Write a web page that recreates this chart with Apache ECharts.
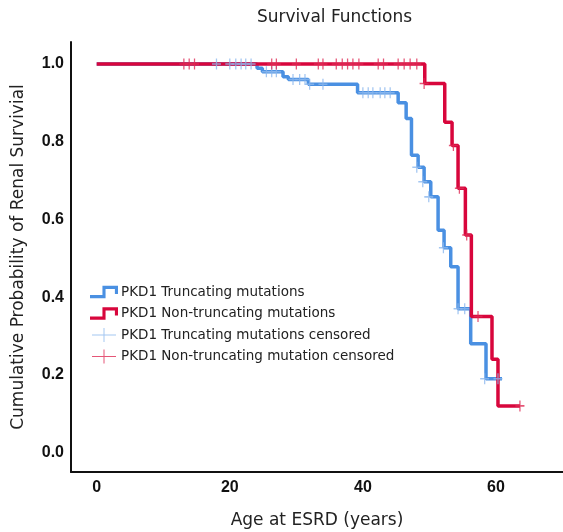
<!DOCTYPE html>
<html>
<head>
<meta charset="utf-8">
<script src="https://cdn.jsdelivr.net/npm/echarts@6/dist/echarts.min.js"></script>
<style>
html,body{margin:0;padding:0;background:#fff;}
#chart{width:563px;height:532px;}
</style>
</head>
<body>
<div id="chart"></div>
<script>
// ---- data ----
const truncTimes = [0, 24.1, 24.9, 28.0, 28.8, 31.8, 39.2, 45.3, 46.5, 47.3, 48.3, 49.2, 50.2, 51.3, 52.2, 53.2, 54.3, 56.2, 58.5, 60.9];
const truncSurv  = [1.0, 0.989, 0.980, 0.967, 0.960, 0.948, 0.926, 0.900, 0.860, 0.765, 0.734, 0.697, 0.658, 0.572, 0.527, 0.478, 0.370, 0.280, 0.190, 0.190];

const nonTruncTimes = [0, 49.3, 52.3, 53.4, 54.3, 55.4, 56.3, 59.4, 60.3, 63.6];
const nonTruncSurv  = [1.0, 0.95, 0.85, 0.79, 0.68, 0.56, 0.35, 0.24, 0.12, 0.12];

const truncCensTimes = [18.0, 20.0, 20.9, 21.7, 22.4, 23.2, 25.5, 26.3, 27.0, 29.5, 30.5, 31.3, 32.0, 34.0, 40.0, 40.8, 41.5, 42.6, 43.3, 44.1, 48.1, 49.0, 49.9, 52.1, 54.3, 55.3, 58.3, 60.3];
const truncCensSurv  = [1, 1, 1, 1, 1, 1, 0.98, 0.98, 0.98, 0.96, 0.96, 0.96, 0.948, 0.948, 0.926, 0.926, 0.926, 0.926, 0.926, 0.926, 0.734, 0.697, 0.658, 0.527, 0.37, 0.37, 0.19, 0.19];

const nonTruncCensTimes = [13.1, 13.9, 14.7, 26.3, 27.0, 30.0, 33.3, 34.0, 36.0, 36.9, 37.7, 38.5, 39.4, 42.3, 43.1, 45.3, 46.2, 47.1, 48.1, 49.2, 53.6, 54.5, 55.6, 57.3, 63.6];
const nonTruncCensSurv  = [1, 1, 1, 1, 1, 1, 1, 1, 1, 1, 1, 1, 1, 1, 1, 1, 1, 1, 1, 0.95, 0.79, 0.68, 0.56, 0.35, 0.12];

const xTicks = [0, 20, 40, 60];
const yTicks = [0, 0.2, 0.4, 0.6, 0.8, 1.0];

const seriesNames = [
  'PKD1 Truncating mutations',
  'PKD1 Non-truncating mutations',
  'PKD1 Truncating mutations censored',
  'PKD1 Non-truncating mutation censored'
];

// ---- build ----
const zip = (a, b) => a.map((v, i) => [v, b[i]]);
const BLUE = '#4a90e2';
const RED = '#d8063c';
const BLUE_C = '#8cb8ee';
const RED_C = '#de2c55';
const stepIcon = 'path://M0,9L12,9L12,0L27,0L27,8L24,8L24,3L15,3L15,12L0,12Z';
const plusIcon = 'path://M0,6.5H24V7.5H0ZM11.5,0H12.5V14H11.5Z';
const plusMark = 'path://M0,4.3H10V5.7H0ZM4.3,0H5.7V10H4.3Z';

const chart = echarts.init(document.getElementById('chart'), null, {renderer: 'canvas'});
chart.setOption({
  animation: false,
  backgroundColor: '#fff',
  title: {
    text: 'Survival Functions',
    left: 257, top: 9, padding: 0,
    textStyle: {fontFamily: 'DejaVu Sans', fontSize: 17, fontWeight: 'normal', color: '#222'}
  },
  grid: {left: 71, right: 0, top: 42, bottom: 60, containLabel: false, outerBoundsMode: 'none'},
  legend: {
    orient: 'vertical', left: 90, top: 285, padding: 0,
    itemWidth: 28, itemHeight: 14, itemGap: 7.5,
    textStyle: {fontFamily: 'DejaVu Sans', fontSize: 13.5, color: '#222', padding: [0, 0, 0, -2]},
    data: [
      {name: seriesNames[0], icon: stepIcon, itemStyle: {color: BLUE}},
      {name: seriesNames[1], icon: stepIcon, itemStyle: {color: RED}},
      {name: seriesNames[2], icon: plusIcon, itemStyle: {color: BLUE_C}},
      {name: seriesNames[3], icon: plusIcon, itemStyle: {color: RED_C}}
    ]
  },
  xAxis: {
    type: 'value', min: -3.86, max: 70.07,
    name: 'Age at ESRD (years)', nameLocation: 'middle', nameGap: 40,
    nameTextStyle: {fontFamily: 'DejaVu Sans', fontSize: 17, color: '#222'},
    axisLine: {show: true, onZero: false, lineStyle: {color: '#111', width: 2}},
    axisTick: {show: false},
    splitLine: {show: false},
    axisLabel: {customValues: xTicks, margin: 8, fontFamily: 'Liberation Sans', fontWeight: 'bold', fontSize: 16, color: '#111'}
  },
  yAxis: {
    type: 'value', min: -0.0502, max: 1.0566,
    name: 'Cumulative Probability of Renal Survivial', nameLocation: 'middle', nameGap: 44,
    nameTextStyle: {fontFamily: 'DejaVu Sans', fontSize: 17, color: '#222'},
    axisLine: {show: true, onZero: false, lineStyle: {color: '#111', width: 2}},
    axisTick: {show: false},
    splitLine: {show: false},
    axisLabel: {customValues: yTicks, margin: 7, fontFamily: 'Liberation Sans', fontWeight: 'bold', fontSize: 16, color: '#111',
      formatter: v => v.toFixed(1)}
  },
  series: [
    {name: seriesNames[0], type: 'line', step: 'end', data: zip(truncTimes, truncSurv),
     showSymbol: false, lineStyle: {color: BLUE, width: 3.5}, itemStyle: {color: BLUE}, z: 2},
    {name: seriesNames[1], type: 'line', step: 'end', data: zip(nonTruncTimes, nonTruncSurv),
     showSymbol: false, lineStyle: {color: RED, width: 3.5}, itemStyle: {color: RED}, z: 3},
    {name: seriesNames[2], type: 'scatter', data: zip(truncCensTimes, truncCensSurv),
     symbol: plusMark, symbolSize: [9, 11], itemStyle: {color: BLUE_C}, z: 4},
    {name: seriesNames[3], type: 'scatter', data: zip(nonTruncCensTimes, nonTruncCensSurv),
     symbol: plusMark, symbolSize: [9, 11], itemStyle: {color: RED_C}, z: 5}
  ]
});
</script>
</body>
</html>
